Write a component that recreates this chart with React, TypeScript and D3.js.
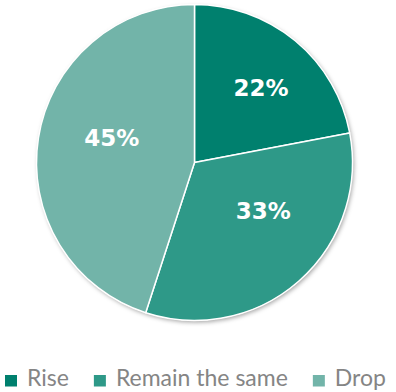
import React, { useEffect, useRef } from "react";
import * as d3 from "d3";

const categories = ["Rise", "Remain the same", "Drop"];
const values = [22, 33, 45];
const labels = ["22%", "33%", "45%"];
const colors = ["#00806E", "#2E9988", "#72B4A9"];
// small nudges of label placement relative to slice centroids (px)
const labelNudge: [number, number][] = [[6, -1], [6, -23], [11, -10]];

export default function App() {
  const ref = useRef<SVGSVGElement>(null);
  useEffect(() => {
    const svg = d3.select(ref.current);
    svg.selectAll("*").remove();
    const cx = 194.5, cy = 162.5, r = 158;

    const defs = svg.append("defs");
    const f = defs.append("filter").attr("id", "sh").attr("x", "-10%").attr("y", "-10%").attr("width", "120%").attr("height", "120%");
    f.append("feDropShadow").attr("dx", 1.5).attr("dy", 2).attr("stdDeviation", 2).attr("flood-color", "#000").attr("flood-opacity", 0.35);

    const pie = d3.pie<number>().sort(null).value((d) => d)(values);
    const arc = d3.arc<d3.PieArcDatum<number>>().innerRadius(0).outerRadius(r);
    const labelArc = d3.arc<d3.PieArcDatum<number>>().innerRadius(95).outerRadius(95);

    const g = svg.append("g").attr("transform", `translate(${cx},${cy})`);
    g.append("circle").attr("r", r).attr("fill", "#fff").attr("filter", "url(#sh)");
    g.selectAll("path.s").data(pie).enter().append("path")
      .attr("d", arc as any)
      .attr("fill", (_, i) => colors[i])
      .attr("stroke", "#fff").attr("stroke-width", 1.5).attr("stroke-linejoin", "round");

    g.selectAll("text.l").data(pie).enter().append("text")
      .attr("x", (d, i) => labelArc.centroid(d)[0] + labelNudge[i][0])
      .attr("y", (d, i) => labelArc.centroid(d)[1] + labelNudge[i][1])
      .attr("text-anchor", "middle").attr("dominant-baseline", "central")
      .attr("fill", "#fff").attr("font-family", "'DejaVu Sans', sans-serif")
      .attr("font-weight", "bold").attr("font-size", 23)
      .text((_, i) => labels[i]);

    // legend
    const lg = svg.append("g");
    let x = 5;
    const baseY = 386;
    categories.forEach((c, i) => {
      lg.append("rect").attr("x", x).attr("y", 375).attr("width", 12).attr("height", 11.5).attr("fill", colors[i]);
      const t = lg.append("text").attr("x", x + 22).attr("y", baseY)
        .attr("fill", "#858585").attr("font-family", "Lato, sans-serif").attr("font-size", 23)
        .text(c);
      const w = (t.node() as SVGTextElement).getComputedTextLength();
      x = x + 22 + w + 25;
    });
  }, []);
  return (
    <svg ref={ref} width={396} height={392} style={{ display: "block", position: "absolute", left: 0, top: 0 }} />
  );
}
